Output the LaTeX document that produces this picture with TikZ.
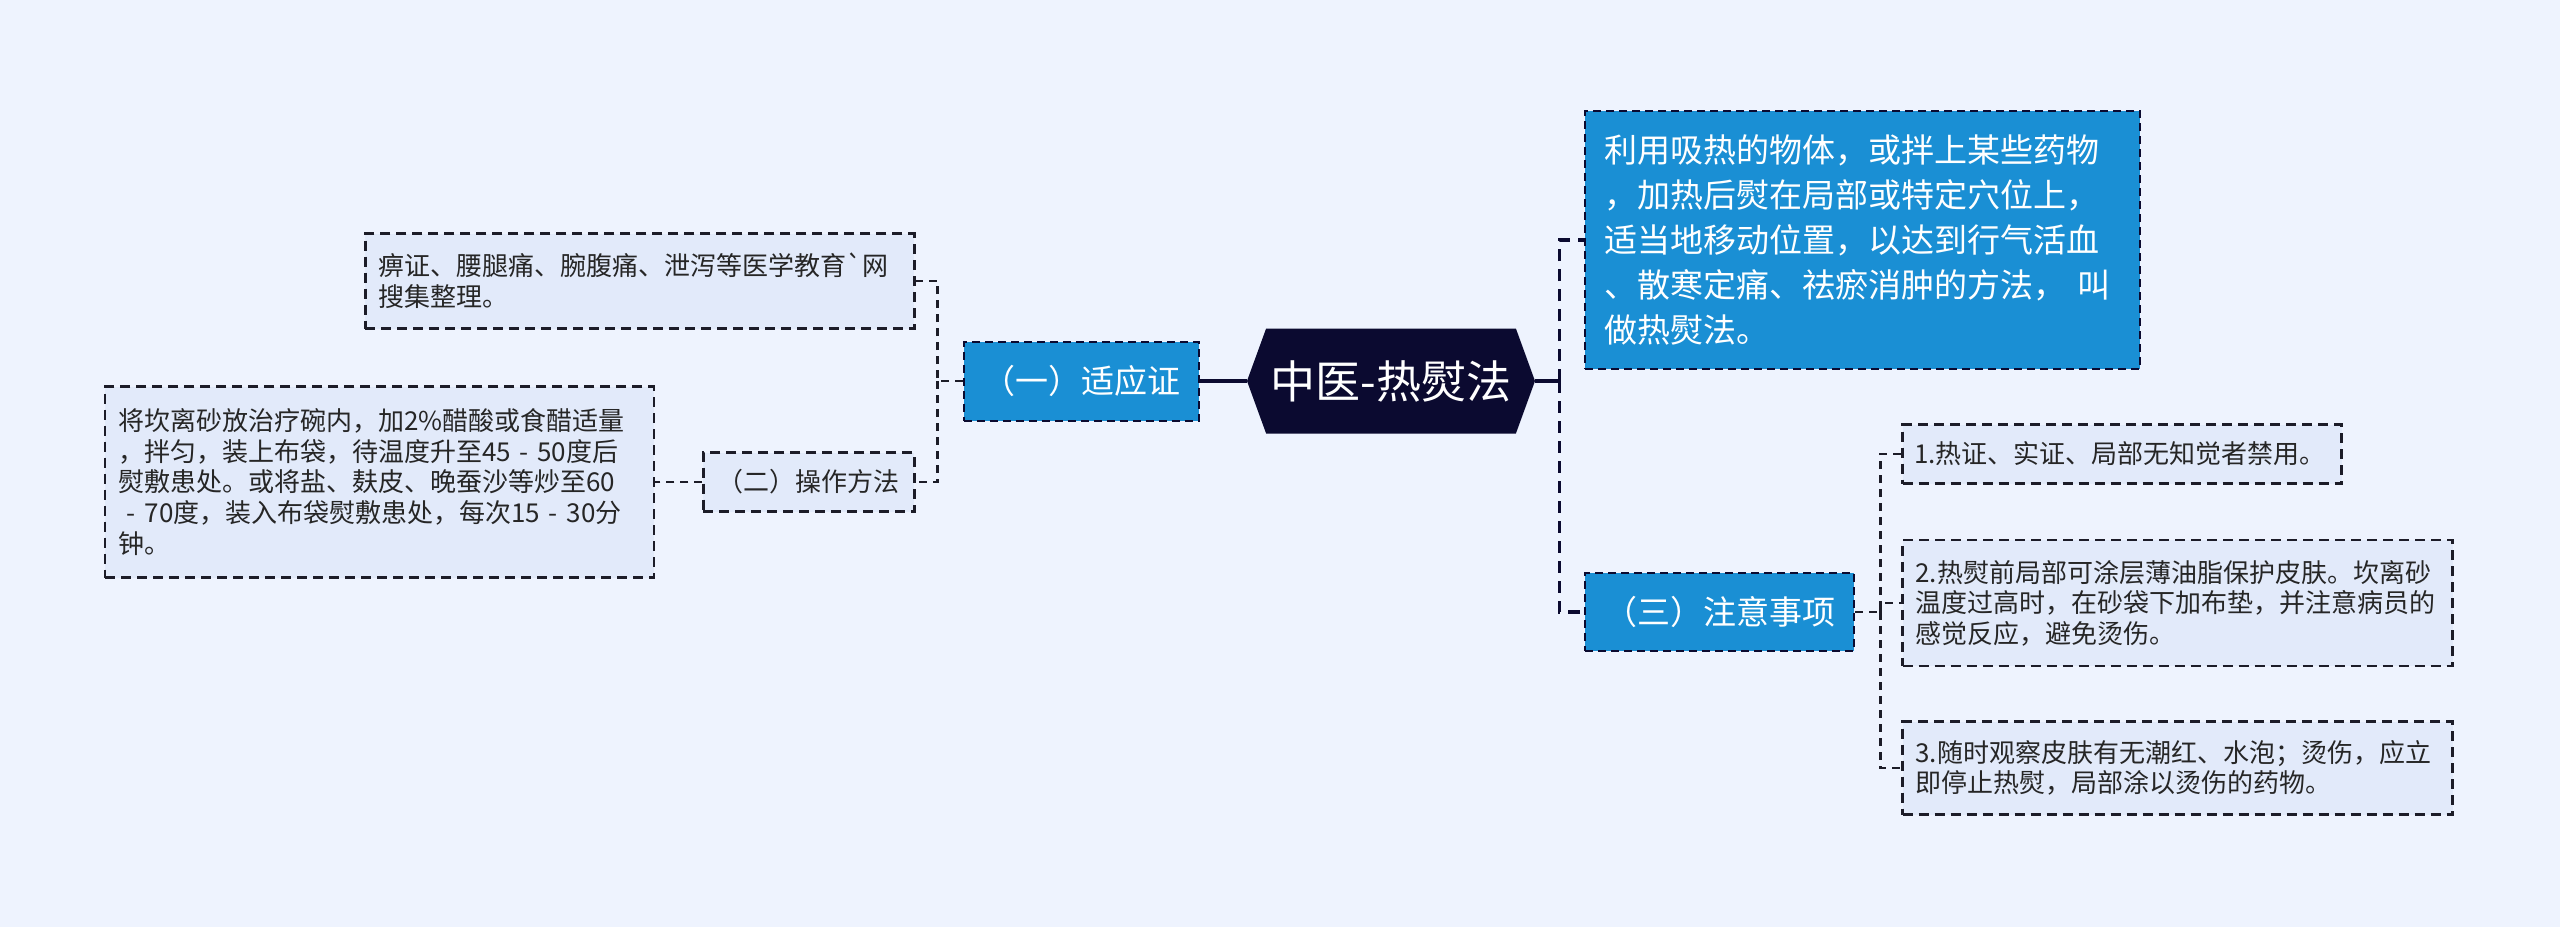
\documentclass[tikz,border=0pt]{standalone}
\usepackage{fontspec}
\setmainfont{Noto Sans CJK SC}
\newfontfamily\plaincjk{Noto Sans CJK SC}
\usetikzlibrary{positioning,shapes.symbols}
\definecolor{pagebg}{HTML}{EEF3FE}
\definecolor{rootnavy}{HTML}{0B0A30}
\definecolor{topicblue}{HTML}{1A8FD4}
\definecolor{leaffill}{HTML}{E2EAFA}
\definecolor{linegray}{HTML}{1C1C28}
\definecolor{leaftext}{HTML}{262626}

\begin{document}
\begin{tikzpicture}[
  x=0.5pt, y=-0.5pt,
  root/.style={shape=signal, signal to=west and east, signal pointer angle=140,
               fill=rootnavy, text=white, minimum width=144pt, minimum height=52.5pt,
               inner sep=0pt, font=\fontsize{22.5}{26}\selectfont},
  topic/.style={rectangle, fill=topicblue, draw=rootnavy, line width=1pt,
                dash pattern=on 4pt off 2.5pt, text=white, inner sep=0pt, align=center,
                font=\fontsize{16.5}{22.5}\selectfont},
  leaf/.style={rectangle, fill=leaffill, draw=linegray, line width=1.1pt,
               dash pattern=on 5pt off 3pt, text=leaftext, inner sep=0pt, align=left,
               font=\fontsize{13}{15.3}\selectfont},
  trunk/.style={draw=rootnavy, line width=1.6pt},
  branch/.style={draw=rootnavy, line width=1.8pt, dash pattern=on 6pt off 4pt},
  twig/.style={draw=linegray, line width=1.1pt, dash pattern=on 4pt off 3pt}
]
\useasboundingbox (0,0) rectangle (2560,927);
\fill[pagebg] (0,0) rectangle (2560,927);

% central topic
\node[root] (root) at (1391,381) {中医-热熨法};

% left branch
\node[topic, minimum width=117.5pt, minimum height=39.5pt, left=23.5pt of root] (yi) {（一）适应证};
\node[leaf, minimum width=274.5pt, minimum height=47.5pt, text width=261.5pt,
      left=23.5pt of yi, yshift=50pt] (bz)
  {痹证、腰腿痛、腕腹痛、泄泻等医学教育{\plaincjk `}网\\搜集整理。};
\node[leaf, align=center, minimum width=105.5pt, minimum height=29.5pt,
      left=23.5pt of yi, yshift=-50.5pt] (cz) {（二）操作方法};
\node[leaf, minimum width=274.5pt, minimum height=95.5pt, text width=261.5pt,
      left=23.5pt of cz] (kl)
  {将坎离砂放治疗碗内，加2\%醋酸或食醋适量\\
   ，拌匀，装上布袋，待温度升至45 - 50度后\\
   熨敷患处。或将盐、麸皮、晚蚕沙等炒至60\\
   \ - 70度，装入布袋熨敷患处，每次15 - 30分\\
   钟。};

% right branch
\node[topic, align=left, minimum width=277.5pt, minimum height=129pt, text width=258.5pt,
      right=24.5pt of root, yshift=70.5pt] (desc)
  {利用吸热的物体，或拌上某些药物\\
   ，加热后熨在局部或特定穴位上，\\
   适当地移动位置，以达到行气活血\\
   、散寒定痛、祛瘀消肿的方法， 叫\\
   做热熨法。};
\node[topic, minimum width=134.5pt, minimum height=39pt,
      right=24.5pt of root, yshift=-115.5pt] (zy) {（三）注意事项};
\node[leaf, minimum width=219.5pt, minimum height=29.5pt, text width=208pt,
      right=23pt of zy, yshift=79pt] (n1) {1.热证、实证、局部无知觉者禁用。};
\node[leaf, minimum width=275pt, minimum height=63pt, text width=262pt,
      right=23pt of zy, yshift=4.5pt] (n2)
  {2.热熨前局部可涂层薄油脂保护皮肤。坎离砂\\
   温度过高时，在砂袋下加布垫，并注意病员的\\
   感觉反应，避免烫伤。};
\node[leaf, minimum width=275pt, minimum height=46.5pt, text width=262pt,
      right=23pt of zy, yshift=-78pt] (n3)
  {3.随时观察皮肤有无潮红、水泡；烫伤，应立\\
   即停止热熨，局部涂以烫伤的药物。};

% connectors, left
\draw[trunk] (yi.east) -- (root.west);
\coordinate[left=12.5pt of yi.west] (lj);
\draw[twig] (yi.west) -- (lj) |- (bz.east);
\draw[twig] (lj) |- (cz.east);
\draw[twig] (cz.west) -- (kl.east);

% connectors, right
\coordinate[right=12pt of root.east] (rj);
\draw[trunk] (root.east) -- (rj);
\draw[branch] (rj) |- (desc.west);
\draw[branch] (rj) |- (zy.west);
\coordinate[right=12.5pt of zy.east] (zj);
\draw[twig] (zy.east) -- (zj) |- (n1.west);
\draw[twig] (zj) |- (n2.west);
\draw[twig] (zj) |- (n3.west);

\end{tikzpicture}
\end{document}
